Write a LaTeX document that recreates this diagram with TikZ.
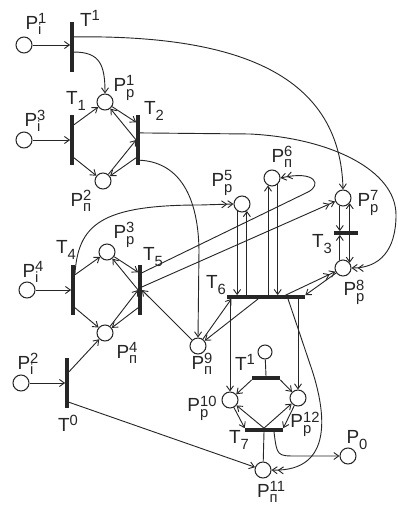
\documentclass[tikz,border=0pt]{standalone}
\usepackage{fontspec}
\setmainfont{Liberation Sans}
\usetikzlibrary{arrows.meta, calc}

\newcommand{\lblsz}{\fontsize{10.5}{11}\selectfont}
\newcommand{\lbl}[3]{#1\setbox0=\hbox{\lblsz #3}\setbox2=\hbox{\lblsz #2}%
  \ifdim\wd0>\wd2 \wd2=\wd0\fi
  \rlap{\raisebox{4pt}{\box0}}\raisebox{-4pt}{\box2}}

\begin{document}
\begin{tikzpicture}[
    x=0.025cm, y=-0.025cm,
    % ====================
    % ESTILOS
    % ====================
    place/.style={
        circle, draw=black!85, line width=0.75pt,
        minimum size=0.4cm, inner sep=0pt
    },
    vbar/.style={
        rectangle, fill=black!85,
        minimum width=0.08cm, minimum height=1.25cm, inner sep=0pt
    },
    hbar/.style={
        rectangle, fill=black!85,
        minimum height=0.08cm, inner sep=0pt
    },
    lab/.style={
        font=\fontsize{13.5}{14}\selectfont, text=black!85, inner sep=0pt
    },
    flow/.style={
        draw=black!85, line width=0.65pt,
        -{Straight Barb[length=3.5pt,width=5pt]}
    },
    flowd/.style={
        draw=black!85, line width=0.65pt,
        -{Straight Barb[length=3.5pt,width=5pt] Straight Barb[length=3.5pt,width=5pt]}
    },
    link/.style={
        draw=black!85, line width=0.65pt
    }
]
\useasboundingbox (0,0) rectangle (398,512);

% ====================
% POSICIONES
% ====================
\node[place] (pi1) at (24,45) {};
\node[place] (pi3) at (24,140) {};
\node[place] (pp1) at (105,102) {};
\node[place] (pn2) at (103,181) {};
\node[place] (pp3) at (107,252) {};
\node[place] (pi4) at (27,290) {};
\node[place] (pn4) at (105,333) {};
\node[place] (pi2) at (21,383) {};
\node[place] (pp5) at (242,204) {};
\node[place] (pn6) at (272,178) {};
\node[place] (pp7) at (343,198) {};
\node[place] (pp8) at (343,268) {};
\node[place] (pn9) at (198,346) {};
\node[place, minimum size=0.35cm] (pc) at (265,352) {};
\node[place] (pp10) at (230,400) {};
\node[place] (pp12) at (298,398) {};
\node[place] (pn11) at (263,470) {};
\node[place] (p0) at (348,456) {};

% ====================
% TRANSICIONES
% ====================
\node[vbar] (tu1) at (72,47) {};
\node[vbar] (t1) at (72,140) {};
\node[vbar] (t2) at (138,140) {};
\node[vbar] (t4) at (73,290) {};
\node[vbar] (t5) at (140,290) {};
\node[vbar] (t0) at (67,383) {};
\node[hbar, minimum width=1.95cm] (t6) at (266,297) {};
\node[hbar, minimum width=0.6cm] (t3) at (346,233) {};
\node[hbar, minimum width=0.7cm] (tl1) at (266,378) {};
\node[hbar, minimum width=0.95cm] (t7) at (264,430) {};

% ====================
% ETIQUETAS
% ====================
\node[lab] (lpi1) at (36,24) {\lbl{P}{i}{1}};
\node[lab] (ltu1) at (90,21) {\lbl{T}{}{1}};
\node[lab] (lpp1) at (124,88) {\lbl{P}{р}{1}};
\node[lab] (lt1) at (76,101) {\lbl{T}{1}{}};
\node[lab] (lt2) at (154,111) {\lbl{T}{2}{}};
\node[lab] (lpi3) at (35,121) {\lbl{P}{i}{3}};
\node[lab] (lpn2) at (81,201) {\lbl{P}{п}{2}};
\node[lab] (lpp3) at (124,235) {\lbl{P}{р}{3}};
\node[lab] (lt4) at (66,250) {\lbl{T}{4}{}};
\node[lab] (lt5) at (153,257) {\lbl{T}{5}{}};
\node[lab] (lpi4) at (33,272) {\lbl{P}{i}{4}};
\node[lab] (lpn4) at (127,353) {\lbl{P}{п}{4}};
\node[lab] (lpi2) at (28,364) {\lbl{P}{i}{2}};
\node[lab] (lt0) at (68,426) {\lbl{T}{}{0}};
\node[lab] (lpp5) at (222,183) {\lbl{P}{р}{5}};
\node[lab] (lpn6) at (282,157) {\lbl{P}{п}{6}};
\node[lab] (lpp7) at (368,203) {\lbl{P}{р}{7}};
\node[lab] (lt3) at (322,244) {\lbl{T}{3}{}};
\node[lab] (lpp8) at (354,292) {\lbl{P}{р}{8}};
\node[lab] (lt6) at (216,285) {\lbl{T}{6}{}};
\node[lab] (lpn9) at (202,364) {\lbl{P}{п}{9}};
\node[lab] (ltl1) at (245,365) {\lbl{T}{}{1}};
\node[lab] (lpp10) at (202,408) {\lbl{P}{р}{10}};
\node[lab] (lpp12) at (305,424) {\lbl{P}{р}{12}};
\node[lab] (lt7) at (239,440) {\lbl{T}{7}{}};
\node[lab] (lp0) at (357,440) {\lbl{P}{0}{}};
\node[lab] (lpn11) at (271,492) {\lbl{P}{п}{11}};

% ====================
% ARCOS
% ====================

% Bloque superior
\draw[flow] (pi1) -- (pi1 -| tu1.west);
\draw[flow] ($(tu1.north east)!0.6!(tu1.south east)$) .. controls (100,52) and (105,65) .. (pp1.north);
\draw[flow] ($(tu1.north east)!0.3!(tu1.south east)$) .. controls (230,35) and (340,70) .. (pp7.north);
\draw[flow] (pi3) -- (pi3 -| t1.west);
\draw[flow] ($(t1.north east)!0.2!(t1.south east)$) -- (pp1);
\draw[flow] ($(t1.north east)!0.85!(t1.south east)$) -- (pn2);
\draw[flow] (pp1) -- ($(t2.north west)!0.15!(t2.south west)$);
\draw[flow] (t2.west) -- (pp1);
\draw[flow] (pn2) -- (t2.west);
\draw[flow] ($(t2.north west)!0.85!(t2.south west)$) -- (pn2);
\draw[flowd] ($(t2.north east)!0.36!(t2.south east)$) -- (250,134)
    .. controls (330,138) and (396,170) .. (396,215)
    .. controls (396,250) and (380,268) .. (pp8.east);
\draw[flow] ($(t2.north east)!0.9!(t2.south east)$) .. controls (175,162) and (198,190) .. (199,250) -- (pn9.north);

% Bloque medio
\draw[flow] (pi4) -- (pi4 -| t4.west);
\draw[flow] ($(t4.north east)!0.2!(t4.south east)$) -- (pp3);
\draw[flow] ($(t4.north east)!0.85!(t4.south east)$) -- (pn4);
\draw[flow] (pp3) -- ($(t5.north west)!0.15!(t5.south west)$);
\draw[flow] (t5.west) -- (pp3);
\draw[flow] (pn4) -- (t5.west);
\draw[flow] ($(t5.north west)!0.85!(t5.south west)$) -- (pn4);
\draw[flowd] ($(t4.north east)!0.2!(t4.south east)$) .. controls (78,225) and (100,205) .. (200,205) -- (pp5.west);
\draw[flowd] ($(t5.north east)!0.16!(t5.south east)$) -- (308,192) .. controls (322,185) and (316,170) .. (pn6.east);
\draw[flowd] ($(t5.north east)!0.44!(t5.south east)$) -- (pp7);
\draw[flow] (pn9) -- (t5.east);

% Entrada inferior
\draw[flow] (pi2) -- (pi2 -| t0.west);
\draw[flow] ($(t0.north east)!0.28!(t0.south east)$) -- (pn4);
\draw[flow] ($(t0.north east)!0.88!(t0.south east)$) -- (pn11);

% T6
\draw[flow] (pp5.-125) -- (pp5.-125 |- t6.north);
\draw[flow] (pp5.-55 |- t6.north) -- (pp5.-55);
\draw[flow] (pn6.-118 |- t6.north) -- (pn6.-118);
\draw[flow] (pn6.-48) -- (pn6.-48 |- t6.north);
\draw[flowd] ($(t6.north west)!0.75!(t6.north east)$) -- (pp8);
\draw[flow] (pp8) -- (t6.north east);
\draw[flow] (pn9) -- ($(t6.south west)!0.06!(t6.south east)$);
\draw[flow] ($(t6.south west)!0.4!(t6.south east)$) -- (pn9);
\draw[flow] (t6.south west -| pp10) -- (pp10);
\draw[flow] (t6.south -| pp12) -- (pp12);
\draw[flowd] ($(t6.south west)!0.78!(t6.south east)$) -- (312,370) .. controls (325,410) and (335,472) .. (pn11.east);

% T3
\draw[flow] (pp7.-112) -- (pp7.-112 |- t3.north);
\draw[flow] (pp8.112) -- (pp8.112 |- t3.south);
\draw[flow] (pp7.-38 |- t3.north) -- (pp7.-38);
\draw[flow] (pp8.38 |- t3.south) -- (pp8.38);

% Bloque inferior
\draw[link] (pc) -- (tl1.north);
\draw[flow] (tl1.south west) -- (pp10);
\draw[flow] (tl1.south east) -- (pp12);
\draw[flow] (pp10) -- (t7.north west);
\draw[flow] (t7.north) -- (pp10);
\draw[flow] (pp12) -- (t7.north east);
\draw[flow] (t7.north) -- (pp12);
\draw[link] (t7.south) -- (pn11);
\draw[flow] ($(t7.south)+(10,0)$) .. controls (277,456) .. (297,456) -- (p0.west);

\end{tikzpicture}
\end{document}
